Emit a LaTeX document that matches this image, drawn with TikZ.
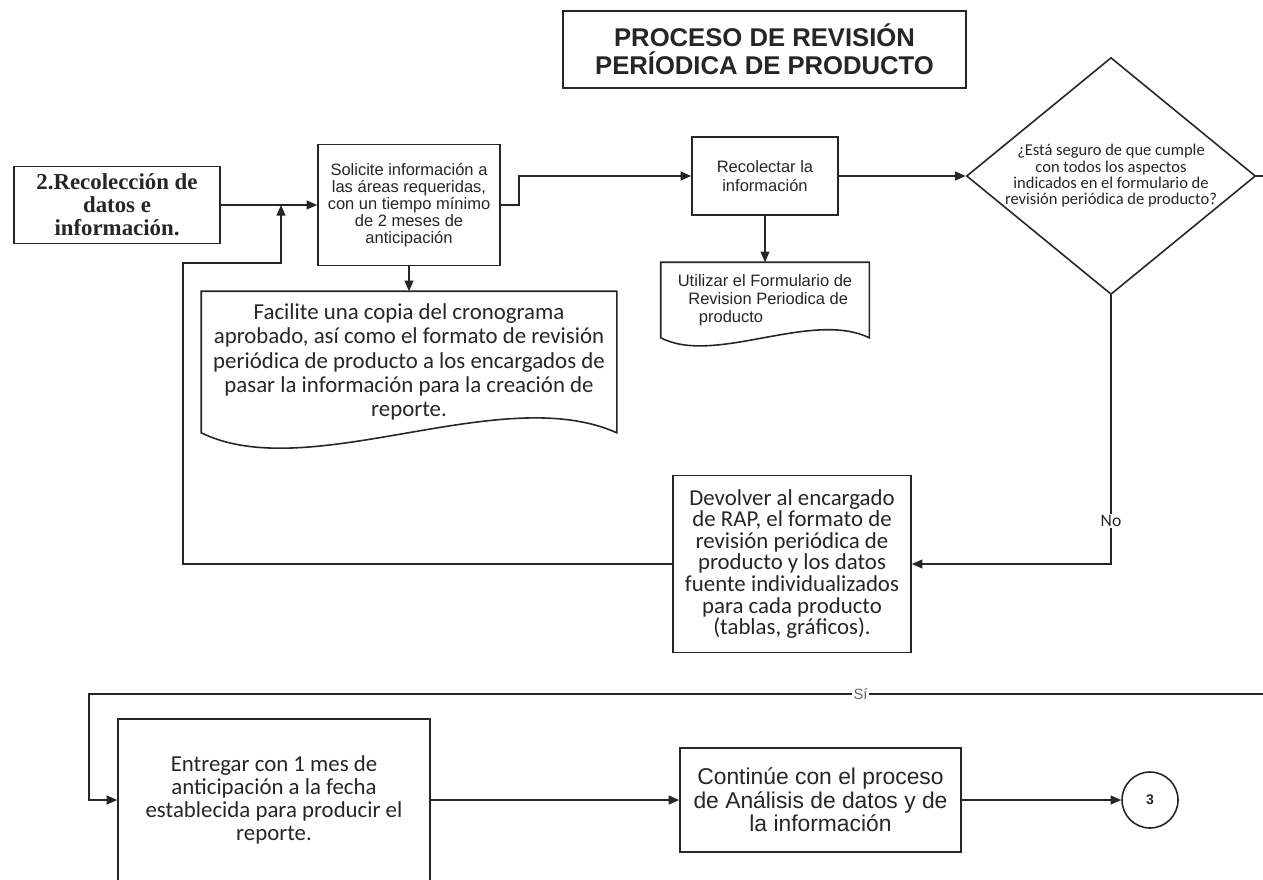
\documentclass[tikz,border=0pt]{standalone}
\usepackage{fontspec}
\setmainfont{Liberation Sans}
\newfontfamily\calfont{Carlito}
\newfontfamily\serfont{Liberation Serif}
\usetikzlibrary{arrows.meta,shapes.geometric}

\tikzset{
  box/.style={draw, rectangle, align=center, inner sep=2pt},
  doc/.style={rectangle, align=center, inner sep=2pt},
  flow/.style={draw, -{Triangle[length=6pt,width=5pt]}},
}

\begin{document}
\begin{tikzpicture}[x=0.02cm, y=-0.02cm, line width=0.9pt, color=black!85]
        \def\u{0.02cm}
        \useasboundingbox (0,0) rectangle (1263,879);
        \fill[white] (0,0) rectangle (1263,879);

        % title
        \node[box, minimum width=403*\u, minimum height=77*\u, font=\fontsize{14.6}{16}\selectfont\bfseries] (titulo) at (764.5,49.5) {PROCESO DE REVISIÓN\\PERÍODICA DE PRODUCTO};

        % first row
        \node[box, minimum width=206*\u, minimum height=77*\u, font=\serfont\fontsize{13}{13.2}\selectfont\bfseries] (datos) at (117,205) {2.Recolección de\\datos e\\información.};
        \node[box, minimum width=182*\u, minimum height=121*\u, font=\fontsize{9.4}{9.6}\selectfont] (solicite) at (409,205) {Solicite información a\\las áreas requeridas,\\con un tiempo mínimo\\de 2 meses de\\anticipación};
        \node[box, minimum width=146*\u, minimum height=78*\u, font=\fontsize{9.4}{10.4}\selectfont] (recolectar) at (765,176) {Recolectar la\\información};
        \node[draw, diamond, aspect=1.22, inner sep=0pt, minimum width=278*\u, minimum height=227*\u, align=center, font=\calfont\fontsize{9.4}{9.3}\selectfont] (seguro) at (1111,176) {¿Está seguro de que cumple\\con todos los aspectos\\indicados en el formulario de\\revisión periódica de producto?};

        % documents
        \node[doc, minimum width=414*\u, minimum height=140*\u, font=\calfont\fontsize{13}{13.9}\selectfont] (facilite) at (409,362) {Facilite una copia del cronograma\\aprobado, así como el formato de revisión\\periódica de producto a los encargados de\\pasar la información para la creación de\\reporte.};
        \draw (facilite.north west) -- (facilite.north east) -- (facilite.south east) .. controls +(-116,-52) and +(108,53) .. (facilite.south west) -- cycle;

        \node[doc, minimum width=207*\u, minimum height=74*\u, align=left, font=\fontsize{9.4}{10.2}\selectfont] (formulario) at (765,300) {Utilizar el Formulario de\\\hspace*{6pt}Revision Periodica de\\\hspace*{12pt}producto};
        \draw (formulario.north west) -- (formulario.north east) -- (formulario.south east) .. controls +(-58,-28) and +(54,28) .. (formulario.south west) -- cycle;

        % return box
        \node[box, minimum width=238*\u, minimum height=177*\u, font=\calfont\fontsize{13}{12.3}\selectfont] (devolver) at (792,564) {Devolver al encargado\\de RAP, el formato de\\revisión periódica de\\producto y los datos\\fuente individualizados\\para cada producto\\(tablas, gráficos).};

        % second row
        \node[box, minimum width=312*\u, minimum height=162*\u, font=\calfont\fontsize{13}{13}\selectfont] (entregar) at (274,800) {Entregar con 1 mes de\\anticipación a la fecha\\establecida para producir el\\reporte.};
        \node[box, minimum width=281*\u, minimum height=104*\u, font=\fontsize{13}{13.4}\selectfont] (continue) at (820.5,800) {Continúe con el proceso\\de Análisis de datos y de\\la información};
        \node[draw, circle, minimum size=56*\u, inner sep=0pt, font=\bfseries\fontsize{8}{8}\selectfont] (tres) at (1150,800) {3};

        \coordinate (junta) at (281,205);
        \coordinate (vuelta) at (183,263);
        \coordinate (esquina) at (89,694);
        \coordinate (fuera) at (1276,694);

        % connectors
        \draw[flow] (datos) -- (solicite);
        \draw[flow] (solicite.east) -- ++(18,0) |- (recolectar.west);
        \draw[flow] (solicite) -- (facilite);
        \draw[flow] (recolectar) -- (formulario);
        \draw[flow] (recolectar) -- (seguro);
        \draw[flow] (seguro.south) |- node[pos=0.42, fill=white, inner sep=1pt, font=\calfont\fontsize{10}{10}\selectfont] {No} (devolver.east);
        \draw[flow] (devolver.west) -| (vuelta) -| (junta);
        \draw[flow] (seguro.east) -| (fuera) -- node[pos=0.35, fill=white, inner sep=1pt, text=black!60, font=\fontsize{8.5}{8.5}\selectfont] {Sí} (esquina) |- (entregar.west);
        \draw[flow] (entregar) -- (continue);
        \draw[flow] (continue) -- (tres);
\end{tikzpicture}
\end{document}
